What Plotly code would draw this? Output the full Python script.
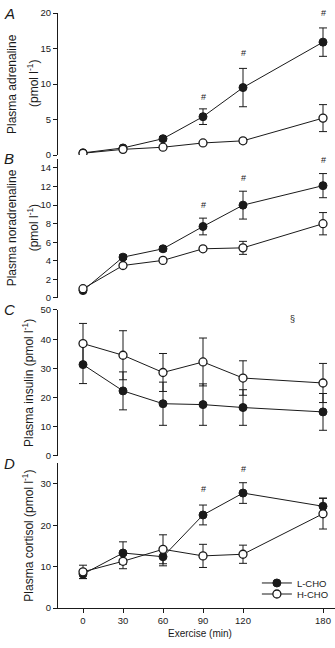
import plotly.graph_objects as go

# ---------------- data ----------------
time_min = [0, 30, 60, 90, 120, 180]

adr_L = [0.3, 1.0, 2.3, 5.4, 9.5, 15.9]
adr_L_err = [0.1, 0.15, 0.3, 1.1, 2.7, 2.0]
adr_H = [0.25, 0.8, 1.1, 1.7, 2.0, 5.2]
adr_H_err = [0.1, 0.1, 0.15, 0.2, 0.3, 1.9]

nor_L = [0.8, 4.4, 5.3, 7.7, 10.0, 12.1]
nor_L_err = [0.1, 0.25, 0.25, 0.9, 1.5, 1.3]
nor_H = [1.0, 3.5, 4.05, 5.3, 5.4, 8.0]
nor_H_err = [0.1, 0.15, 0.15, 0.2, 0.7, 1.2]

ins_L = [31.3, 22.3, 17.9, 17.6, 16.6, 15.1]
ins_L_err = [6.5, 6.5, 7.4, 7.1, 6.1, 6.3]
ins_H = [38.5, 34.5, 28.6, 32.2, 26.7, 25.0]
ins_H_err = [6.9, 8.4, 6.5, 8.2, 5.9, 6.7]

cor_L = [8.2, 13.3, 12.4, 22.5, 27.8, 24.6]
cor_L_err = [1.1, 2.7, 2.2, 2.4, 2.5, 2.0]
cor_H = [8.75, 11.3, 14.2, 12.6, 13.0, 22.8]
cor_H_err = [1.6, 1.8, 3.5, 2.8, 2.2, 3.7]

x_ticks = [0, 30, 60, 90, 120, 180]

# significance symbols: (panel, x, y, text)
sig_marks = [
    (1, 90, 8.2, "#"), (1, 120, 14.3, "#"), (1, 180, 20.0, "#"),
    (2, 90, 10.0, "#"), (2, 120, 12.9, "#"), (2, 180, 14.9, "#"),
    (3, 157, 47.0, "§"),
    (4, 90, 28.9, "#"), (4, 120, 33.6, "#"),
]

panels = [
    dict(L=adr_L, Le=adr_L_err, H=adr_H, He=adr_H_err, yr=[0, 20], dt=5,
         dom=[0.7512, 0.9867], title=["Plasma adrenaline", "(pmol l<sup>-1</sup>)"], letter="A"),
    dict(L=nor_L, Le=nor_L_err, H=nor_H, He=nor_H_err, yr=[0, 15], dt=2,
         dom=[0.5141, 0.7451], title=["Plasma noradrenaline", "(pmol l<sup>-1</sup>)"], letter="B"),
    dict(L=ins_L, Le=ins_L_err, H=ins_H, He=ins_H_err, yr=[0, 50], dt=10,
         dom=[0.2521, 0.4942], title=["Plasma insulin (pmol l<sup>-1</sup>)"], letter="C"),
    dict(L=cor_L, Le=cor_L_err, H=cor_H, He=cor_H_err, yr=[0, 35], dt=10,
         dom=[0.0, 0.2400], title=["Plasma cortisol (pmol l<sup>-1</sup>)"], letter="D"),
]

FONT = "Liberation Sans, Arial, sans-serif"
INK = "#1a1a1a"

fig = go.Figure()
annotations = []
layout_axes = {}

for i, p in enumerate(panels, start=1):
    xa = "x" if i == 1 else f"x{i}"
    ya = "y" if i == 1 else f"y{i}"
    show_leg = (i == 4)
    fig.add_trace(go.Scatter(
        x=time_min, y=p["L"], xaxis=xa, yaxis=ya, name="L-CHO",
        mode="lines+markers", showlegend=show_leg, legend="legend",
        line=dict(color=INK, width=1),
        marker=dict(symbol="circle", size=8, color=INK, line=dict(color=INK, width=1)),
        error_y=dict(type="data", array=p["Le"], visible=True, color=INK, thickness=1, width=4),
    ))
    fig.add_trace(go.Scatter(
        x=time_min, y=p["H"], xaxis=xa, yaxis=ya, name="H-CHO",
        mode="lines+markers", showlegend=show_leg, legend="legend2",
        line=dict(color=INK, width=1),
        marker=dict(symbol="circle", size=8, color="white", line=dict(color=INK, width=1.3)),
        error_y=dict(type="data", array=p["He"], visible=True, color=INK, thickness=1, width=4),
    ))

    xkey = "xaxis" if i == 1 else f"xaxis{i}"
    ykey = "yaxis" if i == 1 else f"yaxis{i}"
    if i == 4:
        layout_axes[xkey] = dict(
            domain=[0, 1], range=[-18.75, 189], anchor=ya,
            tickmode="array", tickvals=x_ticks, ticks="outside", ticklen=4,
            tickcolor=INK, showline=True, linecolor=INK, linewidth=1,
            showgrid=False, zeroline=False,
            tickfont=dict(family=FONT, size=9.5, color=INK),
        )
    else:
        layout_axes[xkey] = dict(
            domain=[0, 1], range=[-18.75, 189], anchor=ya, visible=False,
            showgrid=False, zeroline=False,
        )
    layout_axes[ykey] = dict(
        domain=p["dom"], range=p["yr"], anchor=xa, dtick=p["dt"], tick0=0,
        ticks="outside", ticklen=4, tickcolor=INK,
        showline=True, linecolor=INK, linewidth=1,
        showgrid=False, zeroline=False,
        tickfont=dict(family=FONT, size=9.5, color=INK),
    )

    # y titles
    yref = f"{ya} domain"
    if len(p["title"]) == 2:
        shifts = [12 - 58, 33 - 58]
    else:
        shifts = [28 - 58]
    for txt, sh in zip(p["title"], shifts):
        annotations.append(dict(
            text=txt, xref="paper", x=0, xshift=sh, xanchor="center",
            yref=yref, y=0.5, yanchor="middle", textangle=-90, showarrow=False,
            font=dict(family=FONT, size=12, color=INK),
        ))
    # panel letters
    annotations.append(dict(
        text=f"<i>{p['letter']}</i>", xref="paper", x=0, xshift=-58 + 2, xanchor="left",
        yref=yref, y=1, yanchor="middle", yshift=0, showarrow=False,
        font=dict(family=FONT, size=15, color=INK),
    ))

for (pi, sx, sy, st) in sig_marks:
    xa = "x" if pi == 1 else f"x{pi}"
    ya = "y" if pi == 1 else f"y{pi}"
    annotations.append(dict(
        text=st, xref=xa, yref=ya, x=sx, y=sy, showarrow=False,
        xanchor="center", yanchor="middle",
        font=dict(family=FONT, size=9, color=INK),
    ))

annotations.append(dict(
    text="Exercise (min)", xref="x4", x=88, yref="paper", y=0, yshift=-25,
    xanchor="center", yanchor="middle", showarrow=False,
    font=dict(family=FONT, size=10, color=INK),
))

leg_common = dict(
    x=0.718, xanchor="left", yanchor="middle",
    bgcolor="rgba(0,0,0,0)", borderwidth=0,
    font=dict(family=FONT, size=9.5, color=INK),
    itemwidth=30,
)

fig.update_layout(
    width=335, height=648,
    margin=dict(l=58, r=0, t=5, b=40),
    paper_bgcolor="white", plot_bgcolor="white",
    annotations=annotations,
    showlegend=True,
    legend=dict(y=0.0415, **leg_common),
    legend2=dict(y=0.0232, **leg_common),
    **layout_axes,
)

fig.write_html("out.html", config={"displayModeBar": False},
               post_script="document.body.style.margin='0';")
